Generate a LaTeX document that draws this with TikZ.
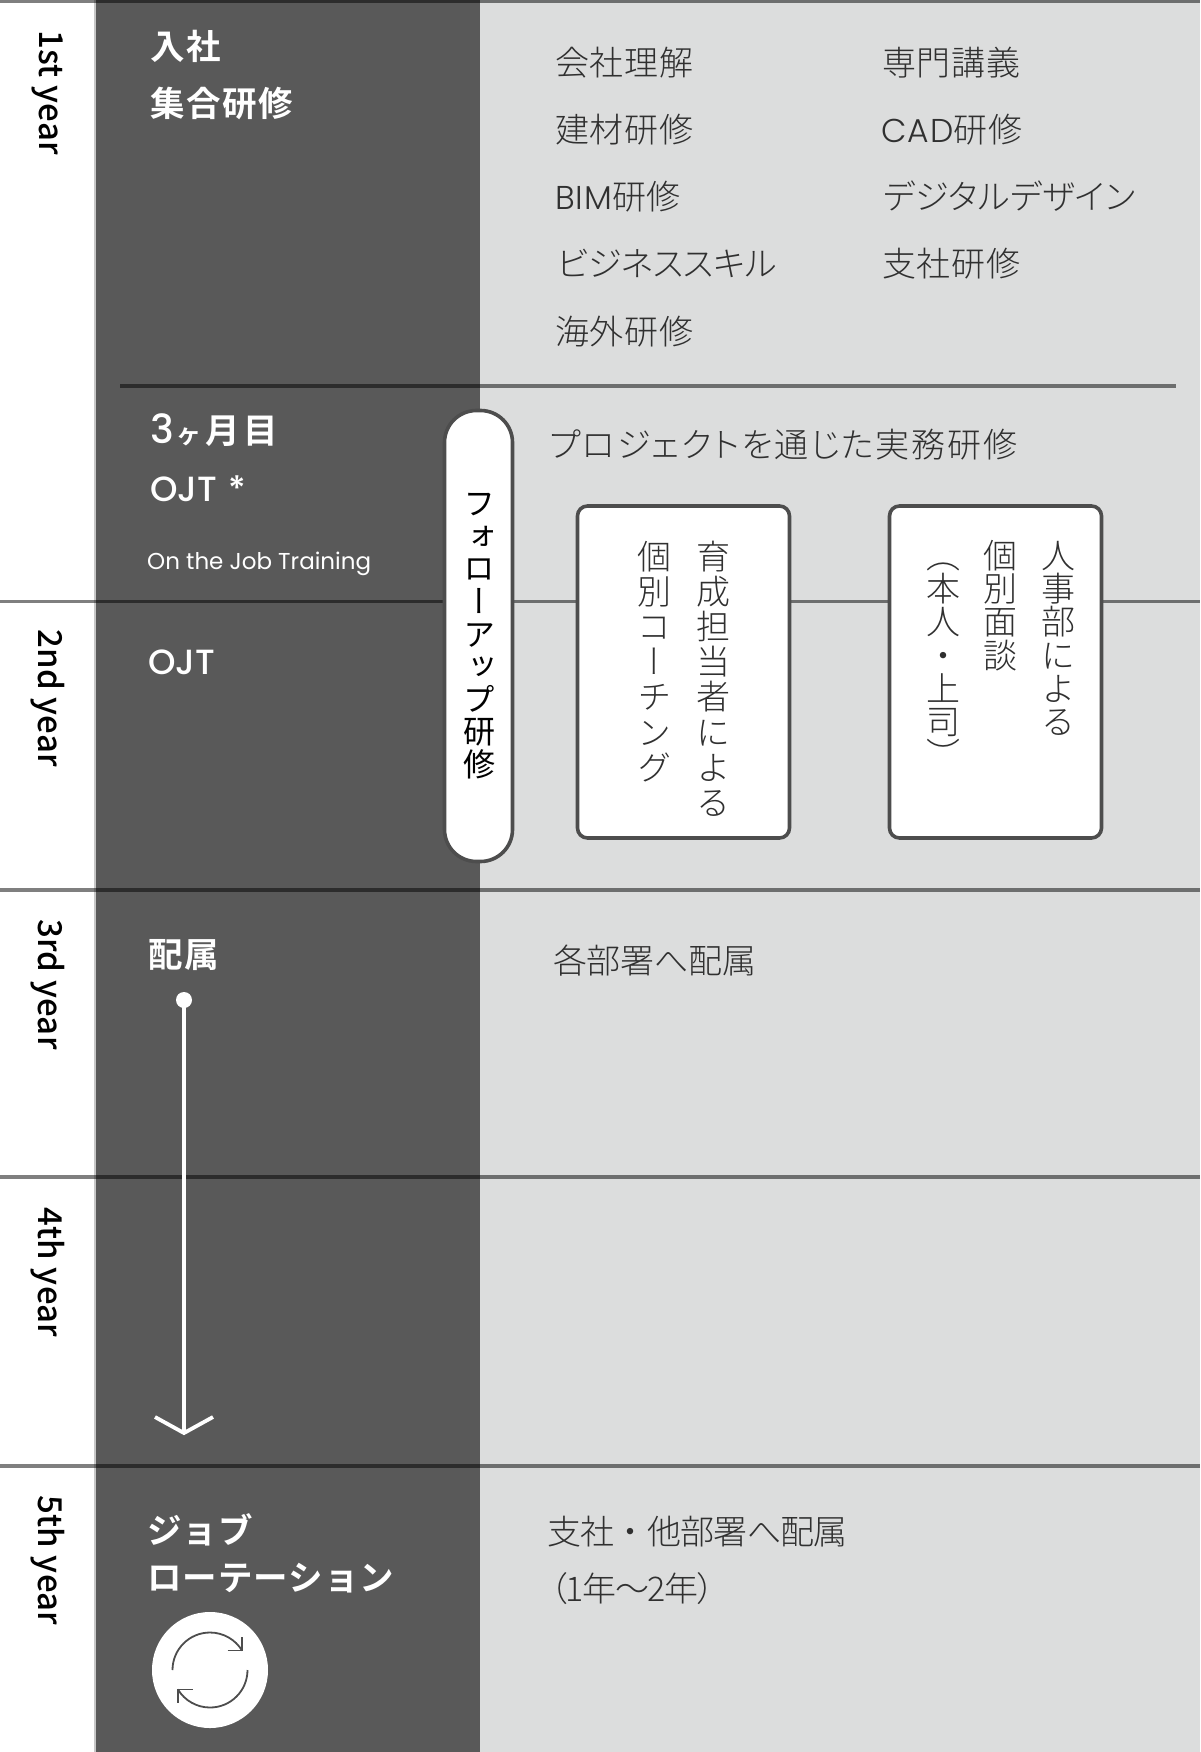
\documentclass[tikz,border=0pt]{standalone}
\usepackage{fontspec}
\usetikzlibrary{calc}
\setmainfont{Noto Sans CJK JP}
\newfontfamily\jplight[LetterSpace=2,RawFeature={+palt}]{Noto Sans CJK JP Light}
\newfontfamily\jplightn[LetterSpace=-2]{Noto Sans CJK JP Light}
\newfontfamily\jpbold[LetterSpace=5,RawFeature={+palt}]{Noto Sans CJK JP Bold}
\newfontfamily\jpboldn[LetterSpace=3]{Noto Sans CJK JP Bold}
\newfontfamily\vjp[RawFeature={+vert}]{Noto Sans CJK JP Light}
\newfontfamily\vjpm[RawFeature={+vert}]{Noto Sans CJK JP}
\newfontfamily\latn{Poppins}
\newfontfamily\latl[LetterSpace=3]{Poppins Light}
\newfontfamily\yearf[LetterSpace=1]{Noto Sans CJK JP Medium}
\definecolor{dark}{HTML}{595959}
\definecolor{pale}{HTML}{DCDDDD}
\definecolor{ink}{HTML}{303030}
\definecolor{edge}{HTML}{4D4D4D}
\newcommand{\vtext}[2]{\vbox{\offinterlineskip\foreach \c in {#2}{\hbox to 1em{\hss\smash{\c}\hss\vrule width 0pt height .78\dimexpr#1\relax depth .22\dimexpr#1\relax}}}}
\newcommand{\ls}[1]{\addfontfeature{LetterSpace=#1}}
\newcommand{\latin}[1]{{\latl\fontsize{33}{33}\selectfont #1}}
\tikzset{
  x=1pt,y=-1pt,
  rule/.style={draw=black,draw opacity=.5,line width=3.4pt},
  year/.style={rotate=-90,anchor=west,inner sep=0pt,font=\yearf\fontsize{33}{33}\selectfont,text=black},
  head/.style={anchor=base west,inner sep=0pt,text=white,font=\jpbold\fontsize{34.5}{34.5}\selectfont},
  item/.style={anchor=base west,inner sep=0pt,text=ink,font=\jplight\fontsize{34}{34}\selectfont},
  vcol/.style={anchor=north,inner sep=0pt,text=ink,font=\vjp\fontsize{34}{34}\selectfont},
  card/.style={draw=edge,line width=3.6pt,fill=white,rounded corners=10pt,minimum width=#1,minimum height=332pt,inner sep=0pt},
}
\begin{document}
\begin{tikzpicture}
\useasboundingbox (0,0) rectangle (1200,1752);
\fill[white] (0,0) rectangle (1200,1752);
\fill[pale] (480,0) rectangle (1200,1752);
\fill[dark] (96,0) rectangle (480,1752);
\fill[black!22] (94,0) rectangle (96,1752);
% row rules
\draw[rule] (0,1.5) -- (1200,1.5);
\draw[rule] (120,386) -- (1176,386);
\draw[rule] (0,601.5) -- (1200,601.5);
\draw[rule] (0,890) -- (1200,890);
\draw[rule] (0,1177) -- (1200,1177);
\draw[rule] (0,1466) -- (1200,1466);
% years
\node[year] (y1) at (48,30) {1st year};
\node[year] (y2) at (48,629) {2nd year};
\node[year] (y3) at (48,919) {3rd year};
\node[year] (y4) at (48,1207) {4th year};
\node[year] (y5) at (48,1495) {5th year};
% left headings
\node[head] (h1) at (150,60) {入社};
\node[head] (h2) at (150,117) {集合研修};
\node[head] (h3) at (150,443) {\fontspec{Poppins Medium}\fontsize{40}{40}\selectfont 3\kern4pt\jpbold\fontsize{25}{25}\selectfont ヶ\kern6pt\fontsize{34.5}{34.5}\selectfont 月\kern4pt 目};
\node[head,font=\fontspec{Poppins Medium}\fontsize{35}{35}\selectfont] (h4) at (150,501) {OJT\kern2pt{} *};
\node[head,font=\latn\fontsize{23}{23}\selectfont] (h5) at (147,569) {On the Job Training};
\node[head,font=\fontspec{Poppins Medium}\fontsize{35}{35}\selectfont] (h6) at (148,674) {OJT};
\node[head] (h7) at (148,967) {配属};
\node[head,font=\jpboldn\fontsize{34.5}{34.5}\selectfont] (h8) at (147,1543) {ジョブ};
\node[head,font=\jpboldn\fontsize{34.5}{34.5}\selectfont] (h9) at (147,1590) {ローテーション};
% right items
\node[item] (a1) at (555,76) {会社理解};
\node[item] (a2) at (555,143) {建材研修};
\node[item] (a3) at (555,210) {\latin{BIM}研修};
\node[item,font=\jplight\ls{-1}\fontsize{34}{34}\selectfont] (a4) at (557,277) {ビジネススキル};
\node[item] (a5) at (555,344) {海外研修};
\node[item] (b1) at (882,76) {専門講義};
\node[item] (b2) at (881,143) {\latin{CAD}研修};
\node[item,font=\jplight\ls{0.7}\fontsize{34}{34}\selectfont] (b3) at (883,210) {デジタルデザイン};
\node[item] (b4) at (882,277) {支社研修};
\node[item,font=\jplight\ls{5}\fontsize{34}{34}\selectfont] (p1) at (549,457) {プロジェクトを通じた実務研修};
\node[item,font=\jplight\ls{-1}\fontsize{34}{34}\selectfont] (p2) at (553,973) {各部署へ配属};
\node[item,font=\jplightn\fontsize{34}{34}\selectfont] (p3) at (547,1544) {支社・他部署へ配属};
\node[item,font=\jplight\ls{-4}\fontsize{34}{34}\selectfont] (p4) at (550,1601) {（1年～2年）};
% follow-up pill
\node[draw=edge,line width=3.6pt,fill=white,rounded corners=32pt,minimum width=68pt,minimum height=451pt,inner sep=0pt] (pill) at (478.5,636) {};
\node[vcol,text=black,font=\vjpm\fontsize{32}{32}\selectfont] (pillt) at (479,490) {\vtext{32.6pt}{フ,ォ,ロ,ー,ア,ッ,プ,研,修}};
% cards
\node[card=212pt] (c1) at (683.5,672) {};
\node[card=212pt] (c2) at (995.5,672) {};
\node[vcol] (c1a) at (713,542) {\vtext{35.1pt}{育,成,担,当,者,に,よ,る}};
\node[vcol] (c1b) at (654,542) {\vtext{35.1pt}{個,別,コ,ー,チ,ン,グ}};
\node[vcol] (c2a) at (1058,542) {\vtext{33.3pt}{人,事,部,に,よ,る}};
\node[vcol] (c2b) at (1000,542) {\vtext{33.3pt}{個,別,面,談}};
\node[vcol] (c2c) at (943,542) {\vtext{33.3pt}{（,本,人,・,上,司,）}};
% long arrow
\node[circle,fill=white,minimum size=16pt,inner sep=0pt] (dot) at (184,1000) {};
\coordinate (tip) at (184,1433);
\draw[white,line width=3.8pt] (dot.center) -- (tip);
\draw[white,line width=3.8pt] (155,1417) -- (tip) -- (213,1417);
% rotation icon
\node[circle,fill=white,minimum size=116pt,inner sep=0pt] (rot) at (210,1670) {};
\draw[edge,line width=1.8pt] (172.5,1670) arc[start angle=180,end angle=31,radius=37.5pt];
\draw[edge,line width=1.8pt] (227.5,1650.5) -- (242,1650.5) -- (242,1636.5);
\draw[edge,line width=1.8pt] (247.5,1670) arc[start angle=0,end angle=-149,radius=37.5pt];
\draw[edge,line width=1.8pt] (192.5,1689.5) -- (178,1689.5) -- (178,1703);
\end{tikzpicture}
\end{document}
